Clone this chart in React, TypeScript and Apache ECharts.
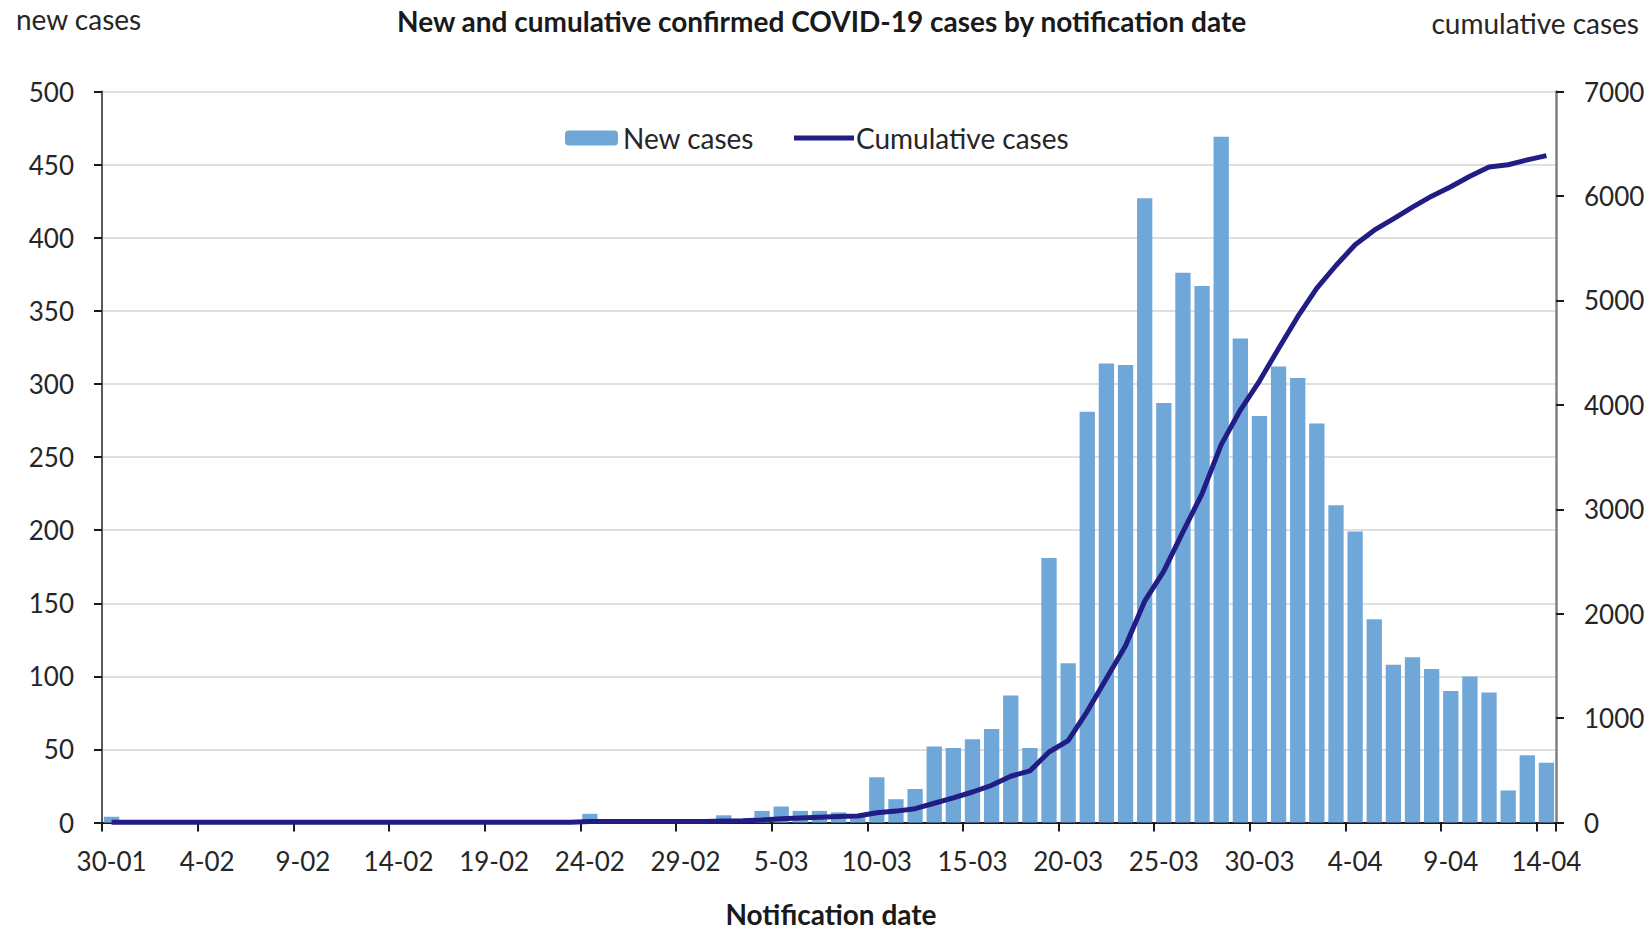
import React, { useEffect, useRef } from "react";
import * as echarts from "echarts";

// Notification dates, 30 Jan – 14 Apr
const dates: string[] = [
  "30-01", "31-01",
  "1-02", "2-02", "3-02", "4-02", "5-02", "6-02", "7-02", "8-02", "9-02", "10-02",
  "11-02", "12-02", "13-02", "14-02", "15-02", "16-02", "17-02", "18-02", "19-02", "20-02",
  "21-02", "22-02", "23-02", "24-02", "25-02", "26-02", "27-02", "28-02", "29-02",
  "1-03", "2-03", "3-03", "4-03", "5-03", "6-03", "7-03", "8-03", "9-03", "10-03",
  "11-03", "12-03", "13-03", "14-03", "15-03", "16-03", "17-03", "18-03", "19-03", "20-03",
  "21-03", "22-03", "23-03", "24-03", "25-03", "26-03", "27-03", "28-03", "29-03", "30-03", "31-03",
  "1-04", "2-04", "3-04", "4-04", "5-04", "6-04", "7-04", "8-04", "9-04", "10-04",
  "11-04", "12-04", "13-04", "14-04",
];

// Daily new cases
const newCases: number[] = [
  4, 0,
  0, 0, 0, 0, 0, 0, 0, 0, 0, 0,
  0, 0, 0, 0, 0, 0, 0, 0, 0, 0,
  0, 0, 0, 6, 0, 0, 0, 0, 0,
  0, 5, 2, 8, 11, 8, 8, 7, 4, 31,
  16, 23, 52, 51, 57, 64, 87, 51, 181, 109,
  281, 314, 313, 427, 287, 376, 367, 469, 331, 278, 312,
  304, 273, 217, 199, 139, 108, 113, 105, 90, 100,
  89, 22, 46, 41,
];

// Running total of confirmed cases
const cumulativeCases: number[] = [
  4, 4,
  4, 4, 4, 4, 4, 4, 4, 4, 4, 4,
  4, 4, 4, 4, 4, 4, 4, 4, 4, 4,
  4, 4, 4, 10, 10, 10, 10, 10, 10,
  10, 15, 17, 25, 36, 44, 52, 59, 63, 94,
  110, 133, 185, 236, 293, 357, 444, 495, 676, 785,
  1066, 1380, 1693, 2120, 2407, 2783, 3150, 3619, 3950, 4228, 4540,
  4844, 5117, 5334, 5533, 5672, 5780, 5893, 5998, 6088, 6188,
  6277, 6299, 6345, 6386,
];

const FONT = "Lato";
const TEXT = "#262626";
const BAR = "#70A7D9";
const LINE = "#211D85";

export default function App() {
  const ref = useRef<HTMLDivElement>(null);

  useEffect(() => {
    if (!ref.current) return;
    const chart = echarts.init(ref.current, undefined, { renderer: "svg" });
    chart.setOption({
      animation: false,
      backgroundColor: "#ffffff",
      textStyle: { fontFamily: FONT },
      title: {
        text: "New and cumulative confirmed COVID-19 cases by notification date",
        left: 397,
        top: 7,
        padding: 0,
        textStyle: { fontFamily: FONT, fontSize: 28, fontWeight: "bold", color: "#1a1a1a" },
      },
      legend: [
        {
          data: ["New cases"],
          left: 565,
          top: 124,
          padding: 0,
          itemWidth: 53,
          itemHeight: 15,
          itemGap: 6,
          textStyle: { fontFamily: FONT, fontSize: 28, color: TEXT, padding: [0, 0, 0, 0] },
        },
        {
          data: [{ name: "Cumulative cases", icon: "rect" }],
          left: 794,
          top: 124,
          padding: 0,
          itemWidth: 60,
          itemHeight: 5,
          textStyle: { fontFamily: FONT, fontSize: 28, color: TEXT, padding: [0, 0, 0, -3] },
        },
      ],
      grid: { left: 102, right: 94, top: 91.5, bottom: 110.4, containLabel: false },
      xAxis: {
        type: "category",
        data: dates,
        boundaryGap: true,
        axisLine: { show: true, lineStyle: { color: "#1a1a1a", width: 2 } },
        axisTick: { show: true, interval: 4, alignWithLabel: false, length: 9, lineStyle: { color: "#1a1a1a", width: 2 } },
        axisLabel: { interval: 4, margin: 25, fontFamily: FONT, fontSize: 26, color: TEXT },
        splitLine: { show: false },
      },
      yAxis: [
        {
          type: "value",
          min: 0,
          max: 500,
          interval: 50,
          axisLine: { show: true, lineStyle: { color: "#595959", width: 2 } },
          axisTick: { show: true, length: 8, lineStyle: { color: "#1a1a1a", width: 2 } },
          axisLabel: { margin: 28, fontFamily: FONT, fontSize: 26, color: TEXT },
          splitLine: { show: true, lineStyle: { color: "#d4d4d4", width: 1.5 } },
        },
        {
          type: "value",
          min: 0,
          max: 7000,
          interval: 1000,
          position: "right",
          axisLine: { show: true, lineStyle: { color: "#7f7f7f", width: 2.5 } },
          axisTick: { show: true, length: 8, lineStyle: { color: "#1a1a1a", width: 2 } },
          axisLabel: {
            margin: 28,
            fontFamily: FONT,
            fontSize: 26,
            color: TEXT,
            formatter: (v: number) => String(v),
          },
          splitLine: { show: false },
        },
      ],
      graphic: [
        {
          type: "text",
          x: 16,
          y: 19,
          style: {
            text: "new cases",
            fontFamily: FONT,
            fontSize: 28,
            lineHeight: 30,
            fill: TEXT,
            textAlign: "left",
            textVerticalAlign: "middle",
          },
        },
        {
          type: "text",
          x: 1639,
          y: 23,
          style: {
            text: "cumulative cases",
            fontFamily: FONT,
            fontSize: 28,
            lineHeight: 30,
            fill: TEXT,
            textAlign: "right",
            textVerticalAlign: "middle",
          },
        },
        {
          type: "text",
          x: 831,
          y: 914,
          style: {
            text: "Notification date",
            fontFamily: FONT,
            fontSize: 28,
            lineHeight: 28,
            fontWeight: "bold",
            fill: "#1a1a1a",
            textAlign: "center",
            textVerticalAlign: "middle",
          },
        },
      ],
      series: [
        {
          name: "New cases",
          type: "bar",
          data: newCases,
          yAxisIndex: 0,
          barWidth: "80%",
          itemStyle: { color: BAR },
        },
        {
          name: "Cumulative cases",
          type: "line",
          data: cumulativeCases,
          yAxisIndex: 1,
          symbol: "none",
          showSymbol: false,
          lineStyle: { color: LINE, width: 5 },
          itemStyle: { color: LINE },
          z: 3,
        },
      ],
    });
    return () => chart.dispose();
  }, []);

  return (
    <div
      ref={ref}
      style={{ position: "fixed", left: 0, top: 0, width: 1650, height: 933 }}
    />
  );
}
